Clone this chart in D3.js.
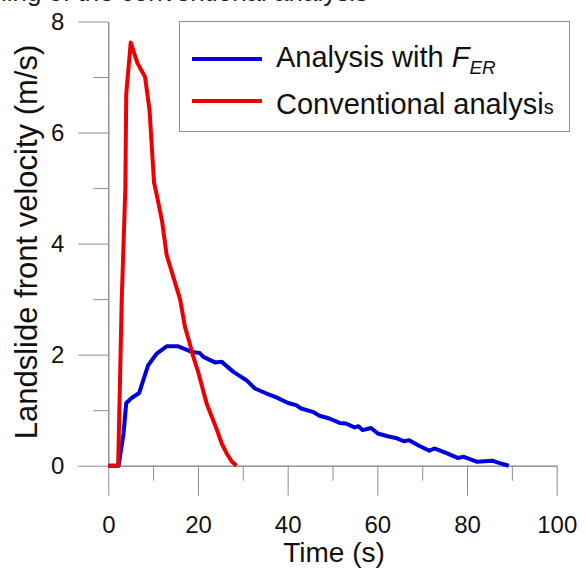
<!DOCTYPE html>
<html>
<head>
<meta charset="utf-8">
<script src="https://cdn.jsdelivr.net/npm/d3@7"></script>
<style>
  body { margin: 0; background: #fff; }
  svg { display: block; font-family: "Liberation Sans", Arial, sans-serif; }
</style>
</head>
<body>
<svg id="chart" width="585" height="569"></svg>
<script>
// Data
var convTime = [0, 2.2, 3.0, 3.8, 4.0, 5.0, 6.5, 8.2, 9.2, 10.2, 11.0, 12.0, 13.0, 14.5, 16.0, 17.1, 18.0, 19.0, 20.0, 21.0, 22.0, 23.0, 24.2, 25.3, 26.4, 27.5, 28.6]
var convVel = [0, 0, 3.0, 5.0, 6.7, 7.62, 7.25, 7.0, 6.4, 5.1, 4.8, 4.4, 3.8, 3.4, 3.0, 2.5, 2.25, 1.95, 1.7, 1.4, 1.1, 0.9, 0.65, 0.4, 0.22, 0.08, 0]

var ferTime = [0, 2.3, 3.4, 4.0, 5.2, 6.9, 7.8, 8.9, 10.8, 13.0, 15.6, 18.6, 20.4, 21.2, 23.8, 25.3, 27.9, 30.8, 32.7, 35.3, 37.5, 40.1, 41.9, 43.0, 45.6, 47.1, 49.3, 51.6, 53.0, 54.9, 55.8, 56.7, 58.6, 60.1, 62.3, 64.1, 66.0, 67.1, 69.3, 71.6, 72.7, 75.3, 77.9, 79.3, 82.3, 85.6, 87.1, 89.3]
var ferVel = [0, 0, 0.58, 1.13, 1.22, 1.31, 1.54, 1.81, 2.02, 2.15, 2.15, 2.05, 2.03, 1.96, 1.86, 1.87, 1.69, 1.54, 1.39, 1.30, 1.23, 1.13, 1.09, 1.03, 0.97, 0.90, 0.85, 0.77, 0.76, 0.69, 0.71, 0.64, 0.68, 0.58, 0.53, 0.50, 0.44, 0.46, 0.36, 0.27, 0.31, 0.23, 0.14, 0.16, 0.07, 0.09, 0.05, 0]

var xMajor = [0, 20, 40, 60, 80, 100]
var xMinor = [10, 30, 50, 70, 90]
var yMajor = [0, 2, 4, 6, 8]
var yMinor = [1, 3, 5, 7]

var colorFer = '#0000dd'
var colorConv = '#ee0000'
var colorAxis = '#8c8c8c'

var svg = d3.select('#chart')

var x = d3.scaleLinear().domain([0, 100]).range([108.3, 556.7])
var y = d3.scaleLinear().domain([0, 8]).range([465.7, 21.5])

// title of the figure, cropped off at the top edge
svg.append('text')
  .attr('x', 368).attr('y', 1)
  .attr('text-anchor', 'end')
  .style('font-size', '26px').attr('fill', '#222')
  .text('front velocity and timing of the conventional analysis')

//
// Axes
//

function styleAxis(g) {
  g.select('.domain').attr('stroke', colorAxis)
  g.selectAll('.tick line').attr('stroke', colorAxis)
  g.selectAll('.tick text').attr('fill', '#111').style('font-size', '24px').style('font-family', 'Liberation Sans, Arial, sans-serif')
}

svg.append('g')
  .attr('transform', 'translate(0,' + y(0) + ')')
  .call(d3.axisBottom(x).tickValues(xMinor).tickSize(15).tickSizeOuter(0).tickFormat(''))
  .call(styleAxis)

svg.append('g')
  .attr('transform', 'translate(0,' + y(0) + ')')
  .call(d3.axisBottom(x).tickValues(xMajor).tickSize(30).tickSizeOuter(0).tickPadding(20))
  .call(styleAxis)

svg.append('g')
  .attr('transform', 'translate(' + x(0) + ',0)')
  .call(d3.axisLeft(y).tickValues(yMinor).tickSize(15).tickSizeOuter(0).tickFormat(''))
  .call(styleAxis)

svg.append('g')
  .attr('transform', 'translate(' + x(0) + ',0)')
  .call(d3.axisLeft(y).tickValues(yMajor).tickSize(30).tickSizeOuter(0).tickPadding(14))
  .call(styleAxis)

svg.append('text')
  .attr('x', 334).attr('y', 562)
  .attr('text-anchor', 'middle')
  .style('font-size', '28px').attr('fill', '#111')
  .text('Time (s)')

svg.append('text')
  .attr('transform', 'translate(37,242) rotate(-90)')
  .attr('text-anchor', 'middle')
  .style('font-size', '31px').attr('fill', '#111')
  .text('Landslide front velocity (m/s)')

//
// Lines
//

var line = d3.line()
  .x(function (d) { return x(d[0]) })
  .y(function (d) { return y(d[1]) })

var fer = d3.zip(ferTime, ferVel)
var conv = d3.zip(convTime, convVel)

svg.append('path')
  .datum(fer)
  .attr('d', line)
  .attr('fill', 'none')
  .attr('stroke', colorFer)
  .attr('stroke-width', 4)
  .attr('stroke-linejoin', 'round')

svg.append('path')
  .datum(conv)
  .attr('d', line)
  .attr('fill', 'none')
  .attr('stroke', colorConv)
  .attr('stroke-width', 4)
  .attr('stroke-linejoin', 'round')

//
// Legend
//

var legend = svg.append('g')

legend.append('rect')
  .attr('x', 179.5).attr('y', 21.5)
  .attr('width', 390).attr('height', 110)
  .attr('fill', '#fff')
  .attr('stroke', colorAxis)

legend.append('line')
  .attr('x1', 192).attr('x2', 262).attr('y1', 59).attr('y2', 59)
  .attr('stroke', colorFer).attr('stroke-width', 4)

legend.append('line')
  .attr('x1', 192).attr('x2', 262).attr('y1', 101).attr('y2', 101)
  .attr('stroke', colorConv).attr('stroke-width', 4)

var t1 = legend.append('text')
  .attr('x', 276).attr('y', 67)
  .style('font-size', '29px').attr('fill', '#111')
t1.append('tspan').text('Analysis with ')
t1.append('tspan').style('font-style', 'italic').text('F')
t1.append('tspan').style('font-style', 'italic').style('font-size', '19px').attr('dy', 7).text('ER')

var t2 = legend.append('text')
  .attr('x', 276).attr('y', 114)
  .style('font-size', '29px').attr('fill', '#111')
t2.append('tspan').text('Conventional analysi')
t2.append('tspan').style('font-size', '20px').text('s')
</script>
</body>
</html>
